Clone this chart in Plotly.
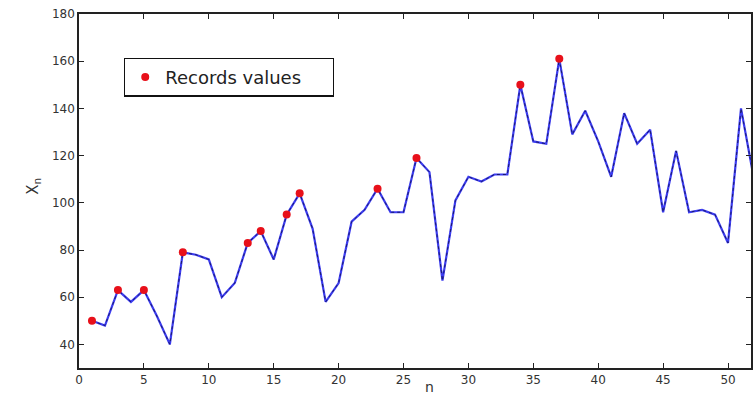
import plotly.graph_objects as go

n_values = list(range(1, 53))
x_series = [50, 48, 63, 58, 63, 52, 40, 79, 78, 76,
            60, 66, 83, 88, 76, 95, 104, 89, 58, 66,
            92, 97, 106, 96, 96, 119, 113, 67, 101, 111,
            109, 112, 112, 150, 126, 125, 161, 129, 139, 126,
            111, 138, 125, 131, 96, 122, 96, 97, 95, 83,
            140, 110]
record_n = [1, 3, 5, 8, 13, 14, 16, 17, 23, 26, 34, 37]
record_vals = [x_series[n_values.index(k)] for k in record_n]

x_ticks = [0, 5, 10, 15, 20, 25, 30, 35, 40, 45, 50]
y_ticks = [40, 60, 80, 100, 120, 140, 160, 180]

fig = go.Figure()
fig.add_trace(go.Scatter(x=n_values, y=x_series, mode="lines",
                         line=dict(color="#3c3cf0", width=2.2),
                         showlegend=False, hoverinfo="skip"))
fig.add_trace(go.Scatter(x=n_values, y=x_series, mode="lines",
                         line=dict(color="#1a1a70", width=1, dash="3px,3px"),
                         showlegend=False, hoverinfo="skip"))
fig.add_trace(go.Scatter(x=record_n, y=record_vals, mode="markers",
                         marker=dict(color="#e8101a", size=8, symbol="circle"),
                         name="Records values"))

axis_common = dict(showgrid=False, zeroline=False, showline=True,
                   linecolor="#222222", linewidth=1.5, mirror="ticks",
                   ticks="inside", ticklen=5, tickwidth=1.2, tickcolor="#222222",
                   tickfont=dict(family="DejaVu Sans", size=12, color="#333333"))

fig.update_xaxes(range=[0, 51.77], tickvals=x_ticks, **axis_common)
fig.update_yaxes(range=[30, 180], tickvals=y_ticks, **axis_common)

fig.update_layout(
    width=753, height=395,
    margin=dict(l=79, r=0, t=14, b=27),
    plot_bgcolor="white", paper_bgcolor="white",
    legend=dict(x=0.067, y=0.877, xanchor="left", yanchor="top",
                orientation="h",
                bordercolor="#111111", borderwidth=1.2, bgcolor="white",
                font=dict(family="DejaVu Sans", size=18, color="#222222"),
                itemwidth=30, entrywidth=162),
    annotations=[
        dict(text="X<sub>n</sub>", xref="paper", yref="y", x=0, y=107,
             xshift=-57, textangle=-90, showarrow=False,
             font=dict(family="DejaVu Sans", size=15, color="#333333")),
        dict(text="n", xref="x", yref="paper", x=27, y=0, yshift=-9,
             yanchor="top", showarrow=False,
             font=dict(family="DejaVu Sans", size=14, color="#333333")),
    ],
)

fig.write_html("out.html", config={"displayModeBar": False},
               post_script="document.body.style.margin='0';document.body.style.overflow='hidden';")
